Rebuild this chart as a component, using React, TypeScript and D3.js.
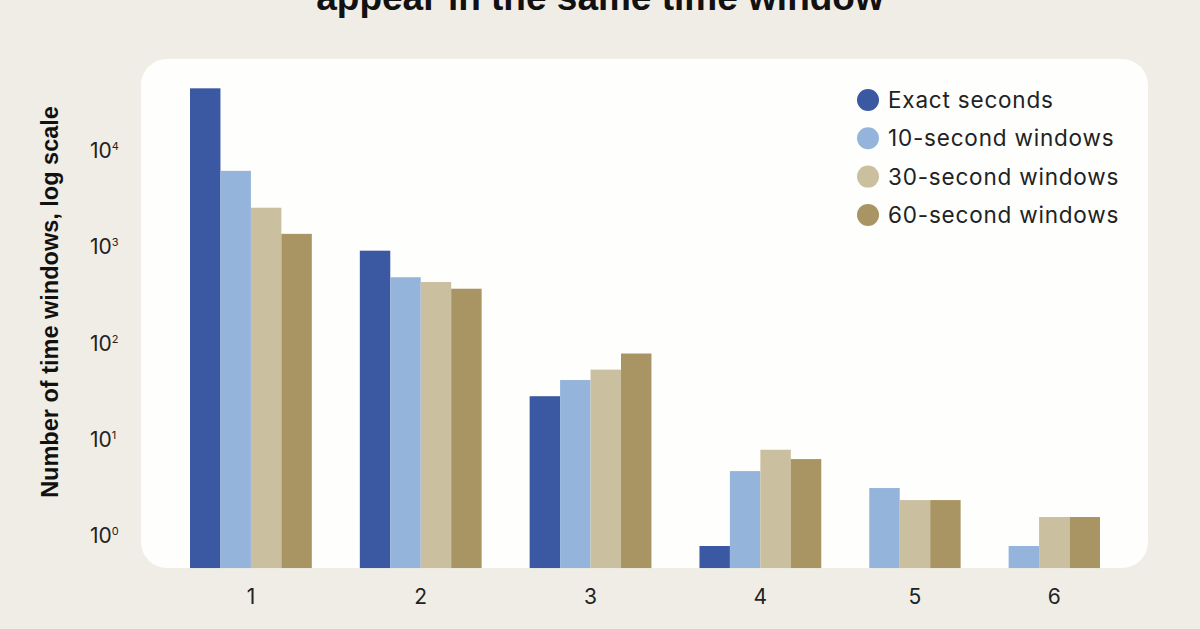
import React from "react";
import * as d3 from "d3";

const groups = ["1", "2", "3", "4", "5", "6"];
const seriesNames = ["Exact seconds", "10-second windows", "30-second windows", "60-second windows"];
const seriesColors = ["#3b58a2", "#94b4dc", "#cabf9f", "#a99564"];
const exactSeconds = [56900, 1170, 36, 1, null, null];
const tenSecond = [7900, 620, 53, 6, 4, 1];
const thirtySecond = [3270, 553, 68, 10, 3, 2];
const sixtySecond = [1750, 471, 100, 8, 3, 2];
const tickExponents = [0, 1, 2, 3, 4];
const title = "appear in the same time window";
const yTitle = "Number of time windows, log scale";

const seriesValues = [exactSeconds, tenSecond, thirtySecond, sixtySecond];

export default function App() {
  const W = 1200, H = 629;
  const GAP = 48 / 30.45; // gap between groups in bar units
  const BASE = 0.59;

  type Bar = { g: number; s: number; v: number; u: number };
  const bars: Bar[] = [];
  const groupCenters: { g: number; u0: number; u1: number }[] = [];
  let cursor = 0;
  groups.forEach((_, gi) => {
    const start = cursor;
    seriesValues.forEach((arr, si) => {
      const v = arr[gi];
      if (v != null) {
        bars.push({ g: gi, s: si, v, u: cursor });
        cursor += 1;
      }
    });
    groupCenters.push({ g: gi, u0: start, u1: cursor });
    cursor += GAP;
  });
  const total = cursor - GAP;

  const x = d3.scaleLinear().domain([0, total]).range([190, 1100]);
  const y = d3.scaleLog().domain([1, 1e4]).range([546, 161]);
  const yBase = y(BASE);

  const sans = "Inter, 'Noto Sans', sans-serif";
  const bold = "'Liberation Sans', Arial, sans-serif";

  return (
    <svg width={W} height={H} style={{ position: "absolute", left: 0, top: 0, display: "block" }}>
      <rect x={0} y={0} width={W} height={H} fill="#f0ede6" />
      <text x={600} y={10} textAnchor="middle" fontFamily={bold} fontWeight={700} fontSize={37} fill="#111">
        {title}
      </text>
      <rect x={141} y={59} width={1007} height={509} rx={26} ry={26} fill="#fefefd" />
      {bars.map((b, i) => (
        <rect
          key={i}
          x={x(b.u)}
          y={y(b.v)}
          width={x(b.u + 1) - x(b.u)}
          height={yBase - y(b.v)}
          fill={seriesColors[b.s]}
        />
      ))}
      {tickExponents.map((e) => (
        <text key={e} x={90} y={y(Math.pow(10, e)) - 3} fontFamily={sans} fontSize={21} fill="#222">
          10
          <tspan fontSize={11} dy={-8}>{e}</tspan>
        </text>
      ))}
      {groupCenters.map((gc) => (
        <text
          key={gc.g}
          x={(x(gc.u0) + x(gc.u1)) / 2}
          y={604}
          textAnchor="middle"
          fontFamily={sans}
          fontSize={21}
          fill="#222"
        >
          {groups[gc.g]}
        </text>
      ))}
      <text
        transform={`translate(58,302) rotate(-90)`}
        textAnchor="middle"
        fontFamily={bold}
        fontWeight={700}
        fontSize={23.5}
        fill="#111"
      >
        {yTitle}
      </text>
      {seriesNames.map((name, i) => (
        <g key={name} transform={`translate(868,${100 + i * 38.3})`}>
          <circle cx={0} cy={0} r={11} fill={seriesColors[i]} />
          <text x={20} y={8} fontFamily={sans} fontSize={22.5} letterSpacing={0.8} fill="#222">
            {name}
          </text>
        </g>
      ))}
    </svg>
  );
}
